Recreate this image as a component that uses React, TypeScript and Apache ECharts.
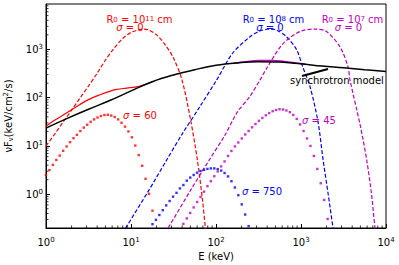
import React, { useEffect, useRef } from "react";
import * as echarts from "echarts";

// ---------- data ----------
// sigma = 0 spectra (dashed), [E keV] / [nuFnu]
const redDashedE = [1, 1.26, 1.58, 2.0, 2.51, 3.16, 3.98, 5.01, 6.31, 7.94, 10, 12.6, 14.1, 15.8, 20, 25.1, 31.6, 39.8, 50.1, 60.3, 69.2, 75, 77.6];
const redDashedV = [10, 17.4, 30.9, 55, 98, 174, 316, 603, 1047, 1660, 2240, 2570, 2630, 2570, 2000, 1260, 660, 234, 35.5, 5.2, 0.79, 0.2, 0.12];

const blueDashedE = [7.94, 8.71, 15.8, 26.3, 39.8, 64.9, 102, 158, 251, 316, 398, 447, 518, 676, 891, 1047, 1276, 1585, 1820, 2089, 2377, 2455];
const blueDashedV = [0.155, 0.204, 1.12, 5.13, 17.4, 66.1, 234, 851, 1820, 2340, 2610, 2630, 2510, 1820, 977, 437, 170, 31.6, 5.13, 1.0, 0.204, 0.141];

const magDashedE = [25.1, 27.5, 50.1, 83.4, 128, 178, 251, 330, 398, 617, 973, 1462, 1995, 2877, 3573, 3767, 5012, 5929, 6761, 7413, 7674];
const magDashedV = [0.158, 0.204, 1.2, 5.13, 17.0, 50.1, 107, 234, 417, 1318, 2340, 2630, 2340, 1122, 437, 234, 25.1, 5.13, 1.0, 0.204, 0.141];

// synchrotron model (black solid)
const synchE = [1, 1.78, 3.16, 5.62, 10, 17.8, 31.6, 56.2, 100, 178, 316, 562, 1000, 1778, 3162, 5623, 10000];
const synchV = [23.4, 37.2, 57.5, 87.1, 138, 214, 295, 380, 468, 525, 556, 546, 501, 452, 417, 380, 347];

// R0 = 1e11 cm solid curve
const redSolidE = [1, 1.26, 1.74, 2.51, 3.16, 4.32, 5.62, 6.76, 8.91, 11.2, 12.8, 17.8];
const redSolidV = [25.7, 33.9, 47.9, 72.4, 91.2, 115, 135, 148, 158, 166, 174, 214];

// R0 = 1e7 cm solid curve (peeks above the synchrotron model)
const magSolidE = [158, 224, 316, 447, 631, 891, 1122];
const magSolidV = [513, 556, 589, 589, 562, 519, 490];

// dotted spectra: points on a 100-point log grid from 1 to 1e4 keV (index k)
const redDotStart = 0; // sigma = 60
const redDotV = [2.51, 3.16, 4.07, 5.13, 6.31, 7.94, 9.77, 12.0, 14.5, 17.0, 20.4, 24.0, 27.5, 31.6, 35.5, 38.9, 41.7, 43.7, 44.2, 42.7, 39.8, 35.5, 30.2, 25.1, 20.0, 15.1, 10.2, 6.46, 3.89, 2.09, 1.02, 0.457];

const blueDotStart = 31; // sigma = 750
const blueDotV = [0.24, 0.295, 0.372, 0.468, 0.589, 0.724, 0.891, 1.07, 1.32, 1.55, 1.91, 2.21, 2.51, 2.79, 3.02, 3.2, 3.35, 3.43, 3.43, 3.31, 3.09, 2.75, 2.34, 1.86, 1.38, 0.955, 0.617, 0.38, 0.219];

const magDotStart = 40; // sigma = 45
const magDotV = [0.243, 0.316, 0.41, 0.533, 0.692, 0.879, 1.13, 1.47, 1.86, 2.36, 2.96, 3.77, 4.79, 6.21, 7.87, 9.77, 11.8, 14.3, 17.3, 20.4, 24.3, 28.5, 33.1, 38.0, 43.2, 47.9, 52.5, 55.6, 57.5, 56.9, 54.3, 50.1, 43.9, 36.3, 27.9, 20.4, 14.3, 10.0, 6.21, 3.34, 1.69, 0.762, 0.308];

// annotation arrow for "synchrotron model"
const arrowE = [1028, 2078];
const arrowV = [281, 393];

// axes
const xMin = 1, xMax = 10000;
const yMin = 0.2, yMax = 8700;
const xMinorTicks = [2, 3, 4, 5, 6, 7, 8, 9, 20, 30, 40, 50, 60, 70, 80, 90, 200, 300, 400, 500, 600, 700, 800, 900, 2000, 3000, 4000, 5000, 6000, 7000, 8000, 9000];
const yMinorTicks = [0.3, 0.4, 0.5, 0.6, 0.7, 0.8, 0.9, 2, 3, 4, 5, 6, 7, 8, 9, 20, 30, 40, 50, 60, 70, 80, 90, 200, 300, 400, 500, 600, 700, 800, 900, 2000, 3000, 4000, 5000, 6000, 7000, 8000];

const RED = "#ff0000";
const BLUE = "#0000ff";
const MAG = "#bf00bf";
const FONT = "DejaVu Sans";

const gridE = (k: number) => Math.pow(10, (4 * k) / 99);
const pairs = (xs: number[], ys: number[]) => xs.map((x, i) => [x, ys[i]]);
const dots = (start: number, ys: number[]) => ys.map((y, i) => [gridE(start + i), y]);

function tickLabel(val: number) {
  const l = Math.log10(val);
  const e = Math.round(l);
  if (Math.abs(l - e) > 1e-6) return "";
  return `{b|10}{s|${e}}`;
}

const axisRich = {
  b: { fontSize: 10, lineHeight: 12, color: "#000", fontFamily: FONT },
  s: { fontSize: 7, lineHeight: 5, color: "#000", fontFamily: FONT, verticalAlign: "top" },
};

function labelRich(color: string) {
  return {
    n: { fontSize: 10, lineHeight: 8, fill: color, fontFamily: FONT },
    i: { fontSize: 10, lineHeight: 8, fill: color, fontFamily: FONT, fontStyle: "italic" },
    sup: { fontSize: 7, lineHeight: 3, fill: color, fontFamily: FONT, verticalAlign: "top" },
    sub: { fontSize: 7, lineHeight: 3, fill: color, fontFamily: FONT, verticalAlign: "bottom" },
  };
}

function txt(x: number, y: number, text: string, color: string, align = "center") {
  return {
    type: "text",
    x,
    y,
    z: 100,
    style: {
      text,
      rich: labelRich(color),
      fill: color,
      fontSize: 10,
      fontFamily: FONT,
      align,
      verticalAlign: "middle",
    },
  };
}

export default function App() {
  const ref = useRef<HTMLDivElement>(null);
  useEffect(() => {
    if (!ref.current) return;
    const chart = echarts.init(ref.current, undefined, { renderer: "svg" });
    const dashed = (data: number[][], color: string) => ({
      type: "line",
      data,
      showSymbol: false,
      smooth: 0.3,
      lineStyle: { color, width: 1.2, type: [4, 2] },
      z: 3,
    });
    const dotted = (data: number[][], color: string) => ({
      type: "scatter",
      data,
      symbol: "rect",
      symbolSize: 2.4,
      itemStyle: { color },
      z: 3,
    });
    const minorX = {
      type: "custom",
      data: xMinorTicks.map((v) => [v, 1]),
      renderItem: (_p: any, api: any) => {
        const p = api.coord([api.value(0), yMin]);
        return { type: "line", shape: { x1: p[0], y1: p[1], x2: p[0], y2: p[1] - 2.5 }, style: { stroke: "#000", lineWidth: 0.8 } };
      },
      silent: true,
      z: 5,
    };
    const minorY = {
      type: "custom",
      data: yMinorTicks.map((v) => [1, v]),
      renderItem: (_p: any, api: any) => {
        const p = api.coord([xMin, api.value(1)]);
        return { type: "line", shape: { x1: p[0], y1: p[1], x2: p[0] + 2.5, y2: p[1] }, style: { stroke: "#000", lineWidth: 0.8 } };
      },
      silent: true,
      z: 5,
    };
    chart.setOption({
      animation: false,
      backgroundColor: "#fff",
      grid: {
        left: 46, right: 13, top: 4, bottom: 37,
        containLabel: false,
        outerBoundsMode: "none",
        show: true, borderColor: "#000", borderWidth: 1, backgroundColor: "transparent",
      },
      xAxis: {
        type: "log",
        logBase: 10,
        min: xMin,
        max: xMax,
        name: "E (keV)",
        nameLocation: "middle",
        nameGap: 22,
        nameTextStyle: { fontSize: 10, fontFamily: FONT, color: "#000" },
        axisLine: { lineStyle: { color: "#000", width: 1 } },
        axisTick: { inside: true, length: 4, lineStyle: { color: "#000" } },
        axisLabel: { formatter: tickLabel, rich: axisRich, margin: 8, showMinLabel: true, showMaxLabel: true },
        splitLine: { show: false },
      },
      yAxis: {
        type: "log",
        logBase: 10,
        min: yMin,
        max: yMax,
        name: "{n|νF}{sub|ν}{n|(keV/cm}{sup|2}{n|/s)}",
        nameLocation: "middle",
        nameGap: 29,
        nameTextStyle: {
          fontSize: 10,
          fontFamily: FONT,
          color: "#000",
          rich: {
            n: { fontSize: 10, lineHeight: 12, color: "#000", fontFamily: FONT },
            sup: { fontSize: 7, lineHeight: 5, color: "#000", fontFamily: FONT, verticalAlign: "top" },
            sub: { fontSize: 7, lineHeight: 6, color: "#000", fontFamily: FONT, verticalAlign: "bottom" },
          },
        },
        axisLine: { lineStyle: { color: "#000", width: 1 } },
        axisTick: { inside: true, length: 4, lineStyle: { color: "#000" } },
        axisLabel: { formatter: tickLabel, rich: axisRich, margin: 3, showMinLabel: false, showMaxLabel: false },
        splitLine: { show: false },
      },
      series: [
        dashed(pairs(redDashedE, redDashedV), RED),
        dashed(pairs(blueDashedE, blueDashedV), BLUE),
        dashed(pairs(magDashedE, magDashedV), MAG),
        { type: "line", data: pairs(magSolidE, magSolidV), showSymbol: false, smooth: 0.4, lineStyle: { color: MAG, width: 1.5 }, z: 2 },
        { type: "line", data: pairs(redSolidE, redSolidV), showSymbol: false, smooth: 0.4, lineStyle: { color: RED, width: 1.2 }, z: 2 },
        { type: "line", data: pairs(synchE, synchV), showSymbol: false, smooth: 0.4, lineStyle: { color: "#000", width: 1.5 }, z: 4 },
        dotted(dots(redDotStart, redDotV), RED),
        dotted(dots(blueDotStart, blueDotV), BLUE),
        dotted(dots(magDotStart, magDotV), MAG),
        { type: "line", data: pairs(arrowE, arrowV), showSymbol: false, lineStyle: { color: "#000", width: 2 }, z: 6 },
        minorX,
        minorY,
      ],
      graphic: [
        txt(139.5, 19, "{n|R}{sub|0}{n| = 10}{sup|11}{n| cm}", RED),
        txt(130, 27, "{i|σ}{n| = 0}", RED),
        txt(273.5, 19, "{n|R}{sub|0}{n| = 10}{sup|8}{n| cm}", BLUE),
        txt(270, 27, "{i|σ}{n| = 0}", BLUE),
        txt(352.5, 19, "{n|R}{sub|0}{n| = 10}{sup|7}{n| cm}", MAG),
        txt(348.5, 27, "{i|σ}{n| = 0}", MAG),
        txt(140, 115, "{i|σ}{n| = 60}", RED),
        txt(319, 120, "{i|σ}{n| = 45}", MAG),
        txt(262, 191, "{i|σ}{n| = 750}", BLUE),
        txt(290, 80.5, "{n|synchrotron model}", "#000", "left"),
      ],
    });
    return () => chart.dispose();
  }, []);
  return <div ref={ref} style={{ position: "fixed", left: 0, top: 0, width: 399, height: 265, background: "#fff" }} />;
}
